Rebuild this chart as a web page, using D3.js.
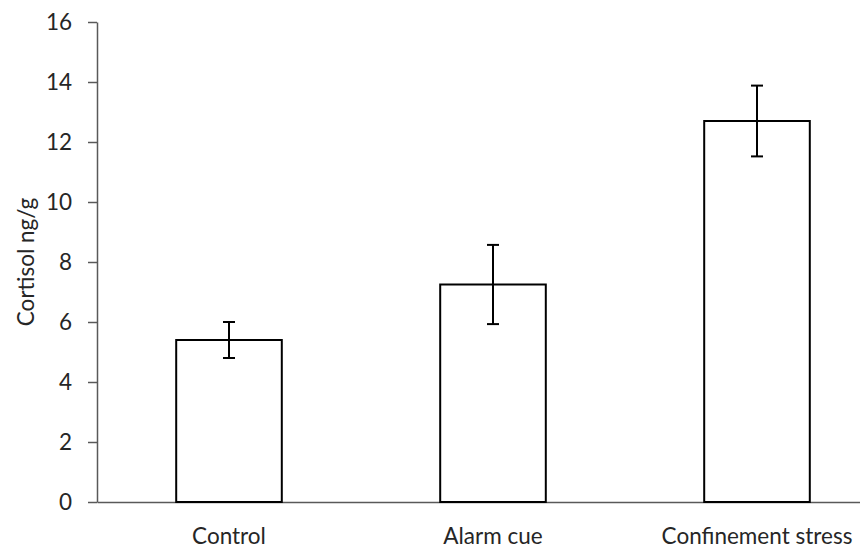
<!DOCTYPE html>
<html>
<head>
<meta charset="utf-8">
<script src="https://cdn.jsdelivr.net/npm/d3@7/dist/d3.min.js"></script>
<style>
  html, body { margin: 0; padding: 0; background: #fff; }
  svg { display: block; }
  .axis text { font-family: Lato, "Open Sans", sans-serif; fill: #262626; }
</style>
</head>
<body>
<svg id="chart" width="860" height="555"></svg>
<script>
// Cortisol concentration per treatment group (mean ± error)
const categories = ["Control", "Alarm cue", "Confinement stress"];
const means = [5.4, 7.25, 12.7];
const errors = [0.6, 1.32, 1.18];
const yTicks = [0, 2, 4, 6, 8, 10, 12, 14, 16];
const yTitle = "Cortisol ng/g";

const svg = d3.select("#chart");
const plotLeft = 97, plotRight = 889, plotTop = 22, plotBottom = 502;

const x = d3.scaleBand()
  .domain(categories)
  .range([plotLeft, plotRight])
  .paddingInner(0.6)
  .paddingOuter(0.3);

const y = d3.scaleLinear()
  .domain([0, 16])
  .range([plotBottom, plotTop]);

// Y axis
const yAxis = svg.append("g")
  .attr("class", "axis")
  .attr("transform", `translate(${plotLeft},0)`)
  .call(d3.axisLeft(y).tickValues(yTicks).tickSize(9).tickSizeOuter(0).tickPadding(16));
yAxis.selectAll("path, line").attr("stroke", "#595959").attr("stroke-width", 1.5);
yAxis.selectAll("text").attr("font-size", 22.5);

// X axis (no tick marks)
const xAxis = svg.append("g")
  .attr("class", "axis")
  .attr("transform", `translate(0,${plotBottom})`)
  .call(d3.axisBottom(x).tickSize(0).tickSizeOuter(0).tickPadding(26));
xAxis.select(".domain").attr("stroke", "#595959").attr("stroke-width", 1.5);
xAxis.selectAll("text").attr("font-size", 22.5).attr("dy", "0.71em");

// Bars
svg.append("g")
  .selectAll("rect")
  .data(categories)
  .join("rect")
  .attr("x", d => x(d))
  .attr("y", (d, i) => y(means[i]))
  .attr("width", x.bandwidth())
  .attr("height", (d, i) => y(0) - y(means[i]))
  .attr("fill", "#fff")
  .attr("stroke", "#000")
  .attr("stroke-width", 2);

// Error bars
const capHalf = 6;
const eb = svg.append("g").attr("stroke", "#000").attr("stroke-width", 2);
categories.forEach((c, i) => {
  const cx = x(c) + x.bandwidth() / 2;
  const hi = y(means[i] + errors[i]);
  const lo = y(means[i] - errors[i]);
  eb.append("line").attr("x1", cx).attr("x2", cx).attr("y1", hi).attr("y2", lo);
  eb.append("line").attr("x1", cx - capHalf).attr("x2", cx + capHalf).attr("y1", hi).attr("y2", hi);
  eb.append("line").attr("x1", cx - capHalf).attr("x2", cx + capHalf).attr("y1", lo).attr("y2", lo);
});

// Y axis title, centred on the plot height
svg.append("text")
  .attr("transform", `translate(34,${(plotTop + plotBottom) / 2}) rotate(-90)`)
  .attr("text-anchor", "middle")
  .attr("font-family", "Lato, 'Open Sans', sans-serif")
  .attr("font-size", 22.5)
  .attr("fill", "#262626")
  .text(yTitle);
</script>
</body>
</html>
